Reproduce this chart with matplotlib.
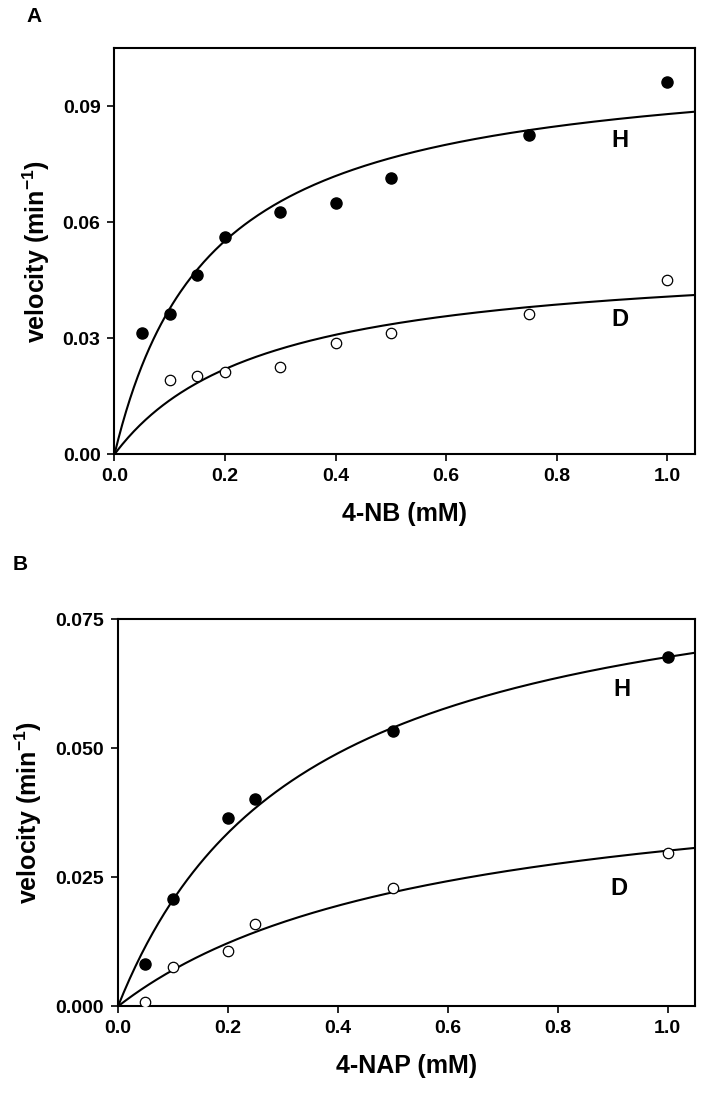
import numpy as np
import matplotlib
matplotlib.use("Agg")
import matplotlib.pyplot as plt

# panel A: 4-NB
nb_conc_h = [0.05, 0.1, 0.15, 0.2, 0.3, 0.4, 0.5, 0.75, 1.0]
nb_vel_h = [0.0314, 0.0364, 0.0463, 0.0563, 0.0626, 0.0651, 0.0715, 0.0825, 0.0964]
nb_conc_d = [0.1, 0.15, 0.2, 0.3, 0.4, 0.5, 0.75, 1.0]
nb_vel_d = [0.0191, 0.0202, 0.0214, 0.0226, 0.0289, 0.0314, 0.0364, 0.0451]
# Michaelis-Menten fit params (Vmax, Km)
nb_fit_h = (0.1033, 0.174)
nb_fit_d = (0.0518, 0.27)

# panel B: 4-NAP
nap_conc_h = [0.05, 0.1, 0.2, 0.25, 0.5, 1.0]
nap_vel_h = [0.0082, 0.0207, 0.0365, 0.0401, 0.0534, 0.0677]
nap_conc_d = [0.05, 0.1, 0.2, 0.25, 0.5, 1.0]
nap_vel_d = [0.0008, 0.0077, 0.0107, 0.0160, 0.0229, 0.0297]
nap_fit_h = (0.0907, 0.34)
nap_fit_d = (0.0475, 0.575)

plt.rcParams['mathtext.fontset'] = 'custom'
plt.rcParams['mathtext.rm'] = 'Liberation Sans:bold'
plt.rcParams['mathtext.bf'] = 'Liberation Sans:bold'

font = ['Liberation Sans', 'DejaVu Sans']


def mm(s, vmax, km):
    return vmax * s / (km + s)


def draw_panel(ax, conc_h, vel_h, conc_d, vel_d, fit_h, fit_d, ylim, yticks, ylabels, xlabel, h_pos, d_pos):
    s = np.linspace(0, 1.05, 300)
    ax.plot(s, mm(s, *fit_h), color='black', lw=1.5)
    ax.plot(s, mm(s, *fit_d), color='black', lw=1.5)
    ax.plot(conc_h, vel_h, 'o', color='black', ms=8, zorder=3)
    ax.plot(conc_d, vel_d, 'o', mfc='white', mec='black', mew=0.9, ms=7.5, zorder=3)

    ax.set_xlim(0, 1.05)
    ax.set_ylim(*ylim)
    ax.set_xticks([0.0, 0.2, 0.4, 0.6, 0.8, 1.0])
    ax.set_xticklabels(['0.0', '0.2', '0.4', '0.6', '0.8', '1.0'])
    ax.set_yticks(yticks)
    ax.set_yticklabels(ylabels)
    for lab in ax.get_xticklabels() + ax.get_yticklabels():
        lab.set_family(font)
        lab.set_fontweight('bold')
        lab.set_fontsize(14)
    ax.tick_params(direction='out', length=5, width=1.2, top=False, right=False, pad=5)
    for sp in ax.spines.values():
        sp.set_linewidth(1.5)

    ax.set_xlabel(xlabel, family=font, fontweight='bold', fontsize=18, labelpad=12)
    ax.set_ylabel(r'velocity (min$^{-1}$)', family=font, fontweight='bold', fontsize=18, labelpad=8)

    ax.text(h_pos[0], h_pos[1], 'H', family=font, fontweight='bold', fontsize=17, ha='center', va='center')
    ax.text(d_pos[0], d_pos[1], 'D', family=font, fontweight='bold', fontsize=17, ha='center', va='center')


fig = plt.figure(figsize=(7.05, 11.16), dpi=100)

ax1 = fig.add_axes([0.1624, 0.5929, 0.8234, 0.3638])
draw_panel(ax1, nb_conc_h, nb_vel_h, nb_conc_d, nb_vel_d, nb_fit_h, nb_fit_d,
           (0, 0.105), [0.0, 0.03, 0.06, 0.09], ['0.00', '0.03', '0.06', '0.09'],
           '4-NB (mM)', (0.915, 0.0812), (0.915, 0.0348))

ax2 = fig.add_axes([0.1674, 0.0983, 0.8184, 0.3468])
draw_panel(ax2, nap_conc_h, nap_vel_h, nap_conc_d, nap_vel_d, nap_fit_h, nap_fit_d,
           (0, 0.075), [0.0, 0.025, 0.05, 0.075], ['0.000', '0.025', '0.050', '0.075'],
           '4-NAP (mM)', (0.917, 0.0613), (0.911, 0.0229))

fig.text(34 / 705, 1 - 16 / 1116, 'A', family=font, fontweight='bold', fontsize=15, ha='center', va='center')
fig.text(20 / 705, 1 - 564 / 1116, 'B', family=font, fontweight='bold', fontsize=15, ha='center', va='center')

fig.savefig('out.png', dpi=100)
